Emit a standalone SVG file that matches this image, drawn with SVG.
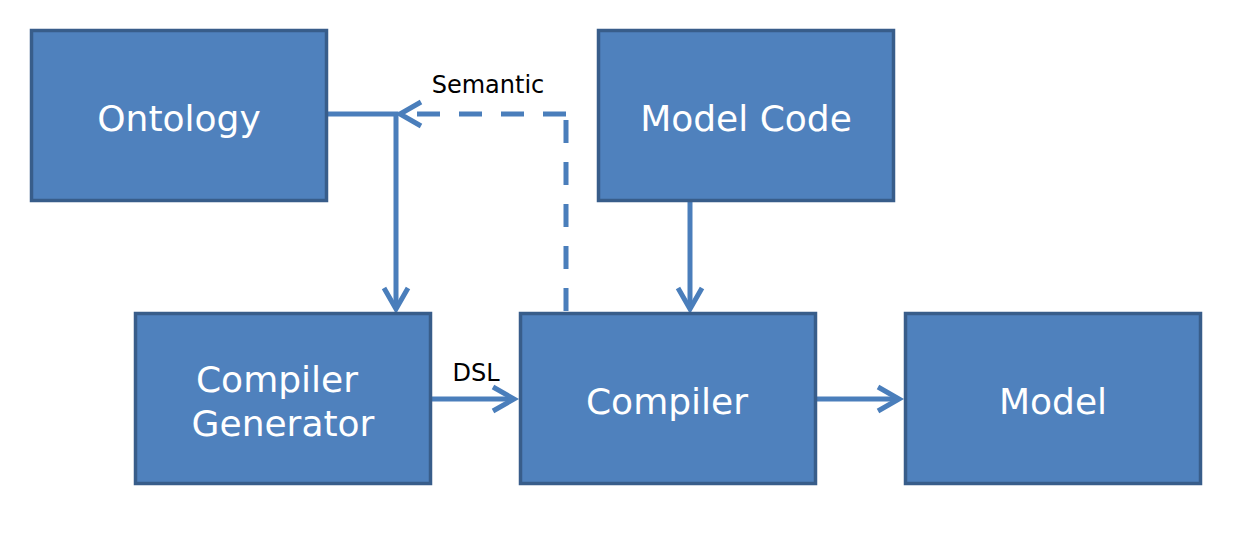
<svg xmlns="http://www.w3.org/2000/svg" width="1240" height="534" viewBox="0 0 1240 534">
<style>
.box{fill:#4F81BD;stroke:#385D8A;stroke-width:3.5}
.t{fill:#FFFFFF;font-family:"DejaVu Sans",sans-serif;font-size:36px;text-anchor:middle}
.lbl{fill:#000000;font-family:"DejaVu Sans",sans-serif;font-size:24px;text-anchor:middle}
.c{fill:none;stroke:#4A7EBB;stroke-width:5;marker-end:url(#arr)}
.d{stroke-dasharray:23 19 23 19 23 19 23 19 23 6 23 19 23 19 23 19 23 200}
.h{fill:none;stroke:#4A7EBB;stroke-width:5}
</style>
<defs>
<marker id="arr" markerUnits="userSpaceOnUse" viewBox="-26 -16 32 32" markerWidth="32" markerHeight="32" refX="0" refY="0" orient="auto" overflow="visible">
<path class="h" d="M-21,-12 L0,0 L-21,12"/>
</marker>
</defs>
<rect width="1240" height="534" fill="#FFFFFF"/>
<g id="connectors">
<path class="c" d="M326,114 H396 V309"/>
<path class="c d" d="M566,311 V114 H400"/>
<path class="c" d="M690,201 V309"/>
<path class="c" d="M431,399 H514"/>
<path class="c" d="M816,399 H899"/>
<text class="lbl" x="488" y="93">Semantic</text>
<text class="lbl" x="476" y="381">DSL</text>
</g>
<g id="ontology">
<rect class="box" x="31.5" y="30.5" width="295" height="170"/>
<text class="t" x="179" y="131">Ontology</text>
</g>
<g id="model-code">
<rect class="box" x="598.5" y="30.5" width="295" height="170"/>
<text class="t" x="746" y="131">Model Code</text>
</g>
<g id="compiler-generator">
<rect class="box" x="135.5" y="313.5" width="295" height="170"/>
<text class="t" x="277" y="392">Compiler</text>
<text class="t" x="283" y="436">Generator</text>
</g>
<g id="compiler">
<rect class="box" x="520.5" y="313.5" width="295" height="170"/>
<text class="t" x="667" y="414">Compiler</text>
</g>
<g id="model">
<rect class="box" x="905.5" y="313.5" width="295" height="170"/>
<text class="t" x="1053" y="414">Model</text>
</g>
</svg>
